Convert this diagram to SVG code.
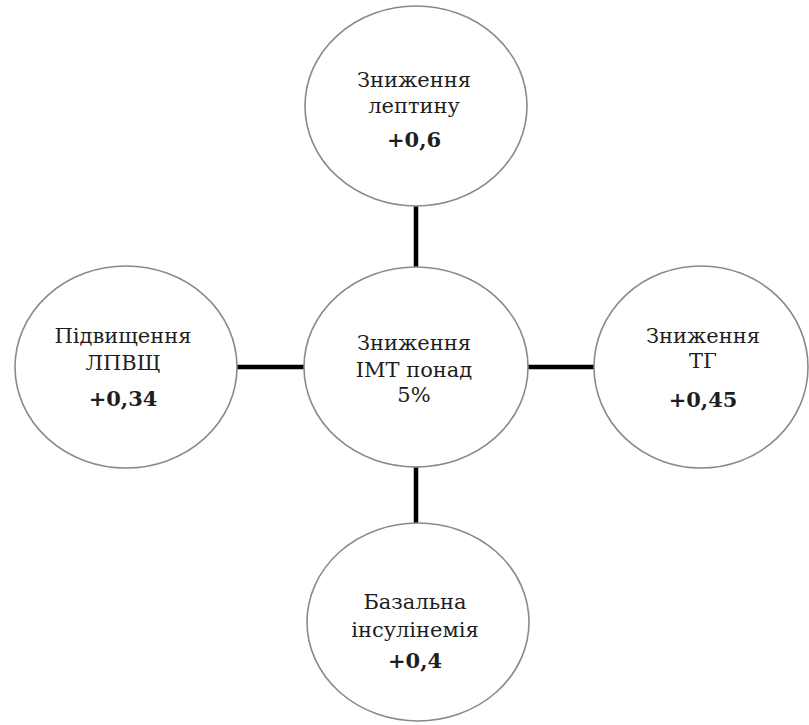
<svg xmlns="http://www.w3.org/2000/svg" width="809" height="725" viewBox="0 0 809 725">
<style>
.node ellipse{fill:#fff;stroke:#8a8a8a;stroke-width:1.6}
text{font-family:'DejaVu Serif',serif;font-size:21px;fill:#1e1e1e;text-anchor:middle}
.b{font-weight:bold}
.conn line{stroke:#000;stroke-width:4.5}
</style>
<rect width="809" height="725" fill="#fff"/>
<g class="conn" id="connectors">
<line x1="416" y1="206" x2="416" y2="268"/>
<line x1="236" y1="367" x2="304" y2="367"/>
<line x1="527" y1="367" x2="595" y2="367"/>
<line x1="416" y1="466" x2="416" y2="524"/>
</g>
<g class="node" id="top">
<ellipse cx="416" cy="106" rx="111" ry="100"/>
<text x="414" y="87">Зниження</text>
<text x="414" y="113">лептину</text>
<text class="b" x="414" y="147">+0,6</text>
</g>
<g class="node" id="center">
<ellipse cx="416" cy="367" rx="112" ry="100"/>
<text x="414" y="350">Зниження</text>
<text x="414" y="377">IMT понад</text>
<text x="414" y="402">5%</text>
</g>
<g class="node" id="left">
<ellipse cx="126" cy="367" rx="111" ry="101"/>
<text x="123" y="343">Підвищення</text>
<text x="123" y="370">ЛПВЩ</text>
<text class="b" x="123" y="406">+0,34</text>
</g>
<g class="node" id="right">
<ellipse cx="701" cy="367" rx="107" ry="101"/>
<text x="703" y="343">Зниження</text>
<text x="703" y="368">ТГ</text>
<text class="b" x="703" y="407">+0,45</text>
</g>
<g class="node" id="bottom">
<ellipse cx="418" cy="622" rx="111" ry="99"/>
<text x="415" y="609">Базальна</text>
<text x="415" y="637">інсулінемія</text>
<text class="b" x="415" y="668">+0,4</text>
</g>
</svg>
